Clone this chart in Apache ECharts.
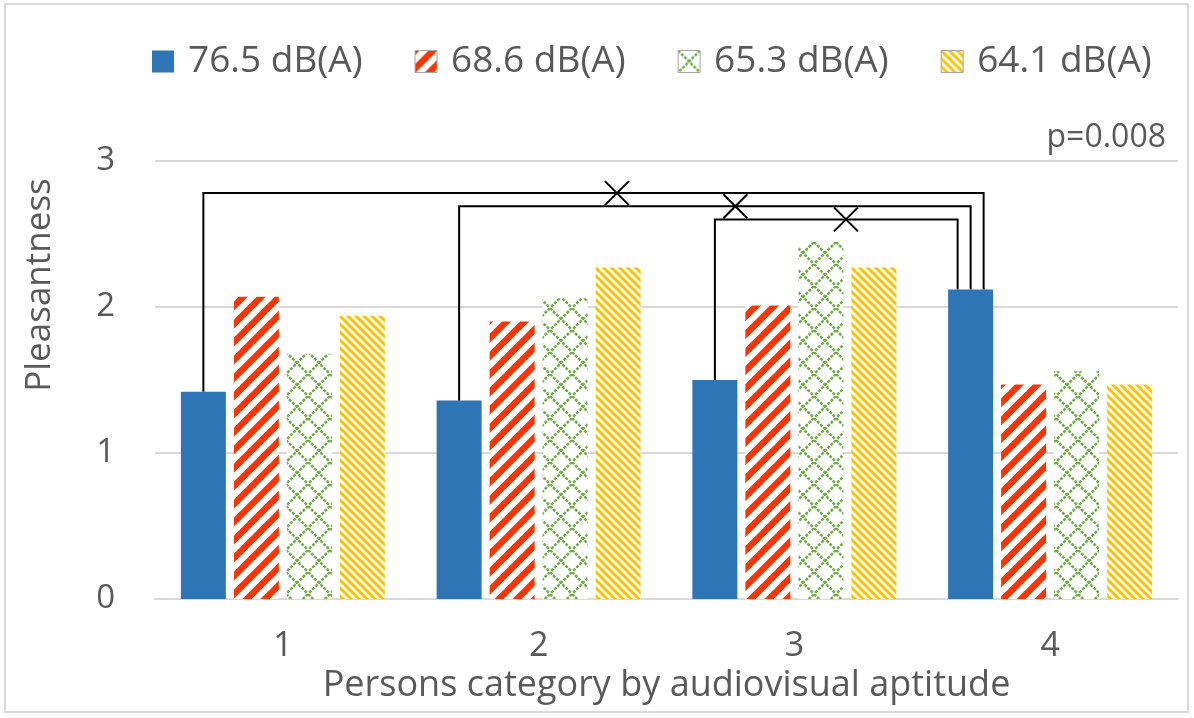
<!DOCTYPE html>
<html>
<head>
<meta charset="utf-8">
<script src="https://cdn.jsdelivr.net/npm/echarts@6/dist/echarts.min.js"></script>
<style>
html,body{margin:0;padding:0;background:#fff;}
#main{width:1194px;height:718px;}
</style>
</head>
<body>
<div id="main"></div>
<script>
// ---- data ----
const categories = ['1', '2', '3', '4'];
const seriesNames = ['76.5 dB(A)', '68.6 dB(A)', '65.3 dB(A)', '64.1 dB(A)'];
const s765 = [1.42, 1.36, 1.50, 2.12];
const s686 = [2.07, 1.90, 2.01, 1.47];
const s653 = [1.68, 2.06, 2.45, 1.56];
const s641 = [1.94, 2.27, 2.27, 1.47];
const yTicks = [0, 1, 2, 3];
// significance brackets: from category (blue bar) to category 4 (blue bar), at level
const bracketFrom = [0, 1, 2];
const bracketTo = [3, 3, 3];
const bracketLevel = [2.78, 2.69, 2.60];
const bracketMarkPos = [0.53, 0.54, 0.54];
const pText = 'p=0.008';
const yTitle = 'Pleasantness';

// ---- styles ----
const FONT = '"Open Sans", "Noto Sans", sans-serif';
const TXT = '#595959';
const GRIDC = '#D9D9D9';
const BAR_W = 45, BAR_GAP = 8;

function tile(size, draw) {
  const c = document.createElement('canvas');
  c.width = size; c.height = size;
  const g = c.getContext('2d');
  g.fillStyle = '#ffffff';
  g.fillRect(0, 0, size, size);
  draw(g, size);
  return c;
}
const redPat = tile(18, (g, s) => {
  g.strokeStyle = '#FF3300'; g.lineWidth = 6.5; g.lineCap = 'butt';
  for (let k = -1; k <= 1; k++) {
    g.beginPath(); g.moveTo(k * s - 3, s + 3); g.lineTo(k * s + s + 3, -3); g.stroke();
  }
});
const yelPat = tile(8, (g, s) => {
  g.strokeStyle = '#FFC000'; g.lineWidth = 3;
  for (let k = -1; k <= 1; k++) {
    g.beginPath(); g.moveTo(k * s - 2, -2); g.lineTo(k * s + s + 2, s + 2); g.stroke();
  }
});
const grnPat = tile(22, (g, s) => {
  g.strokeStyle = '#70AD47'; g.lineWidth = 2.6; g.setLineDash([3, 1.4]);
  g.beginPath(); g.moveTo(0, 0); g.lineTo(s, s); g.stroke();
  g.beginPath(); g.moveTo(s, 0); g.lineTo(0, s); g.stroke();
});
const colors = [
  '#2E75B6',
  { image: redPat, repeat: 'repeat' },
  { image: grnPat, repeat: 'repeat' },
  { image: yelPat, repeat: 'repeat' }
];
const values = [s765, s686, s653, s641];

const chart = echarts.init(document.getElementById('main'), null, { renderer: 'canvas' });

const series = seriesNames.map((n, i) => ({
  name: n,
  type: 'bar',
  data: values[i],
  barWidth: BAR_W,
  barGap: (BAR_GAP / BAR_W * 100).toFixed(1) + '%',
  itemStyle: { color: colors[i] },
  emphasis: { disabled: true },
  animation: false
}));

chart.setOption({
  backgroundColor: '#ffffff',
  animation: false,
  textStyle: { fontFamily: FONT, color: TXT },
  legend: {
    left: 147,
    top: 38,
    itemWidth: 22,
    itemHeight: 22,
    itemGap: 52,
    icon: 'rect',
    textStyle: { fontFamily: FONT, fontSize: 37, color: TXT, padding: [0, 0, 0, 9] },
    data: seriesNames.map((n, i) => ({
      name: n,
      itemStyle: i === 0 ? {} : { borderColor: '#A6A6A6', borderWidth: 1 }
    }))
  },
  grid: { left: 155, right: 16, top: 161, bottom: 119, containLabel: false },
  xAxis: {
    type: 'category',
    data: categories,
    axisTick: { show: false },
    axisLine: { lineStyle: { color: GRIDC, width: 2 } },
    axisLabel: { fontSize: 34, color: TXT, margin: 30, fontFamily: FONT },
    name: 'Persons category by audiovisual aptitude',
    nameLocation: 'middle',
    nameGap: 60,
    nameTextStyle: { fontSize: 36, color: TXT, fontFamily: FONT }
  },
  yAxis: {
    type: 'value',
    min: 0, max: 3, interval: 1,
    axisLine: { show: false },
    axisTick: { show: false },
    splitLine: { lineStyle: { color: GRIDC, width: 2 } },
    axisLabel: { fontSize: 33, color: TXT, margin: 40, fontFamily: FONT,
      formatter: v => yTicks.includes(v) ? String(v) : '' }
  },
  series: series
});

function drawOverlay() {
  const els = [];
  els.push({
    type: 'rect', silent: true, z: -1,
    shape: { x: 5, y: 4, width: 1183, height: 708 },
    style: { fill: 'none', stroke: GRIDC, lineWidth: 2 }
  });
  els.push({
    type: 'text', silent: true,
    style: { text: pText, x: 1166, y: 138, align: 'right', verticalAlign: 'middle',
      font: '32px ' + FONT, fill: TXT }
  });
  els.push({
    type: 'text', silent: true,
    x: 40, y: 285, rotation: Math.PI / 2,
    style: { text: yTitle, x: 0, y: 0, align: 'center', verticalAlign: 'middle',
      font: '35px ' + FONT, fill: TXT }
  });
  const blueOffset = (0 - 1.5) * (BAR_W + BAR_GAP);
  const endOffsets = [13, 0, -13];
  for (let b = 0; b < bracketFrom.length; b++) {
    const fi = bracketFrom[b], ti = bracketTo[b];
    const x1 = chart.convertToPixel({ xAxisIndex: 0 }, fi) + blueOffset;
    const x2 = chart.convertToPixel({ xAxisIndex: 0 }, ti) + blueOffset + endOffsets[b];
    const yTop = chart.convertToPixel({ yAxisIndex: 0 }, bracketLevel[b]);
    const y1 = chart.convertToPixel({ yAxisIndex: 0 }, s765[fi]);
    const y2 = chart.convertToPixel({ yAxisIndex: 0 }, s765[ti]);
    els.push({
      type: 'polyline', silent: true, z: 10,
      shape: { points: [[x1, y1], [x1, yTop], [x2, yTop], [x2, y2]] },
      style: { stroke: '#000', lineWidth: 2, fill: 'none' }
    });
    const mx = x1 + (x2 - x1) * bracketMarkPos[b];
    const r = 12;
    els.push({
      type: 'line', silent: true, z: 10,
      shape: { x1: mx - r, y1: yTop - r, x2: mx + r, y2: yTop + r },
      style: { stroke: '#000', lineWidth: 2 }
    });
    els.push({
      type: 'line', silent: true, z: 10,
      shape: { x1: mx - r, y1: yTop + r, x2: mx + r, y2: yTop - r },
      style: { stroke: '#000', lineWidth: 2 }
    });
  }
  chart.setOption({ graphic: { elements: els } });
}
drawOverlay();
</script>
</body>
</html>
